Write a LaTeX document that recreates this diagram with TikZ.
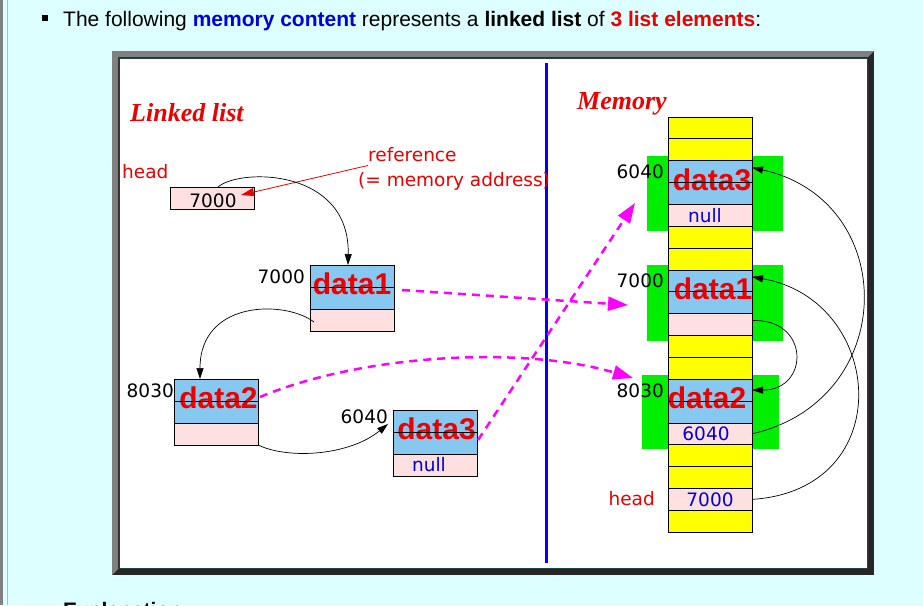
\documentclass[tikz,border=0pt]{standalone}
\usepackage{fontspec}
\setmainfont{Liberation Sans}
\newfontfamily\dvsans{DejaVu Sans}
\newfontfamily\lserif{Liberation Serif}
\usetikzlibrary{arrows.meta}
\definecolor{pagebg}{RGB}{221,255,255}
\definecolor{pagegray}{RGB}{128,128,128}
\definecolor{framegray}{RGB}{128,128,128}
\definecolor{framedark}{RGB}{38,38,38}
\definecolor{innerline}{RGB}{30,70,70}
\definecolor{cellblue}{RGB}{135,200,240}
\definecolor{cellpink}{RGB}{255,224,224}
\definecolor{cellyellow}{RGB}{255,255,0}
\definecolor{memgreen}{RGB}{0,238,0}
\definecolor{txtred}{RGB}{235,0,0}
\definecolor{txtblue}{RGB}{0,0,220}
\definecolor{magline}{RGB}{255,0,255}
\definecolor{divblue}{RGB}{0,0,255}
\newcommand\topfnt{\fontsize{21}{25}\selectfont}
\newcommand\lblfnt{\dvsans\fontsize{18.5}{22}\selectfont}
\newcommand\datfnt{\bfseries\fontsize{30}{34}\selectfont}
\newcommand\ttlfnt{\lserif\bfseries\itshape\fontsize{26}{30}\selectfont}
\begin{document}
\begin{tikzpicture}[x=1pt,y=-1pt,
  cell/.style={draw=black, line width=0.8pt, minimum width=84pt, minimum height=22pt, inner sep=0pt, outer sep=0pt},
  mcell/.style={minimum height=21.85pt},
  lbl/.style={font=\lblfnt, inner sep=0pt},
  dat/.style={font=\datfnt, text=txtred, inner sep=0pt, yshift=3pt},
  ttl/.style={font=\ttlfnt, text=txtred, inner sep=0pt, anchor=base west},
  ptr/.style={draw=black, line width=0.7pt, -{Triangle[length=11pt,width=7pt]}},
  refptr/.style={draw=txtred, line width=0.8pt, -{Triangle[length=13pt,width=8pt]}},
  magarrow/.style={draw=magline, line width=2.5pt, dash pattern=on 8pt off 6pt, -{Triangle[length=20pt,width=14pt]}},
  midline/.style={draw=black, line width=0.8pt}]
\useasboundingbox (0,0) rectangle (923,605);
% page
\fill[pagebg] (0,0) rectangle (923,605);
\fill[pagegray] (0,0) rectangle (3,605);
\draw[pagegray!55, line width=0.8pt] (7.5,0) -- (7.5,605);
\node[fill=black, minimum size=6pt, inner sep=0pt] (bullet) at (45,18) {};
\node[anchor=base west, inner sep=0pt, font=\topfnt] (title) at (63,26)
  {The following \textcolor{txtblue}{\bfseries memory content} represents a \textbf{linked list} of \textcolor{txtred}{\bfseries 3 list elements}:};
\begin{scope}
  \clip (0,0) rectangle (923,605);
  \node[anchor=base west, inner sep=0pt, font=\topfnt\bfseries] (expl) at (63,617) {Explanation};
\end{scope}
% frame
\fill[framedark] (112,51) rectangle (874,575);
\fill[framegray] (112,51) -- (874,51) -- (868,57) -- (118,57) -- (118,569) -- (112,575) -- cycle;
\draw[fill=white, draw=innerline, line width=0.8pt] (119,58) rectangle (867,568);
% divider
\draw[divblue, line width=3pt] (546,63) -- (546,563);
% titles
\node[ttl] (lltitle) at (130,121) {Linked list};
\node[ttl] (memtitle) at (577,109) {Memory};
% ---------- linked list side ----------
\node[lbl, text=txtred, anchor=base west] (headlbl) at (122,178) {head};
\node[cell, fill=cellpink] (headbox) at (212,198) {};
\node[lbl, anchor=base] (headval) at (213,207) {7000};
\node[lbl, text=txtred, anchor=base west] (refl) at (368,161) {reference};
\node[lbl, text=txtred, anchor=base west] (refl2) at (358,186) {(= memory address)};
\coordinate (reftip) at (241,195);

\node[cell, fill=cellblue] (n1a) at (352,276) {};
\node[cell, fill=cellblue] (n1b) at (352,298) {};
\node[cell, fill=cellpink] (n1c) at (352,320) {};
\node[dat] (d1) at (n1a.south) {data1};
\draw[midline] (n1a.south west) -- (n1a.south east);
\node[lbl, anchor=base east] (a1) at (305,283) {7000};

\node[cell, fill=cellblue] (n2a) at (216,390) {};
\node[cell, fill=cellblue] (n2b) at (216,412) {};
\node[cell, fill=cellpink] (n2c) at (216,434) {};
\node[dat, xshift=2.5pt] (d2) at (n2a.south) {data2};
\draw[midline] (n2a.south west) -- (n2a.south east);
\node[lbl, anchor=base east] (a2) at (174,397) {8030};

\node[cell, fill=cellblue] (n3a) at (435,421) {};
\node[cell, fill=cellblue] (n3b) at (435,443) {};
\node[cell, fill=cellpink] (n3c) at (435,465) {};
\node[dat, xshift=1.5pt] (d3) at (n3a.south) {data3};
\draw[midline] (n3a.south west) -- (n3a.south east);
\node[lbl, text=txtblue, xshift=-6pt] (n3null) at (n3c) {null};
\node[lbl, anchor=base east] (a3) at (388,423) {6040};

% ---------- memory side ----------
\fill[memgreen] (647,156) rectangle (783,231);
\fill[memgreen] (647,265) rectangle (783,341);
\fill[memgreen] (642,375) rectangle (779,449);
\foreach \i/\c in {0/cellyellow,1/cellyellow,2/cellblue,3/cellblue,4/cellpink,5/cellyellow,6/cellyellow,7/cellblue,8/cellblue,9/cellpink,10/cellyellow,11/cellyellow,12/cellblue,13/cellblue,14/cellpink,15/cellyellow,16/cellyellow,17/cellpink,18/cellyellow}
  \node[cell, mcell, fill=\c] (m\i) at (710,{117+21.85*\i+10.925}) {};
\node[dat, xshift=2pt] (md3) at (m2.south) {data3};
\draw[midline] (m2.south west) -- (m2.south east);
\node[lbl, text=txtblue, xshift=-5pt] (mnull) at (m4) {null};
\node[dat, xshift=3pt] (md1) at (m7.south) {data1};
\draw[midline] (m7.south west) -- (m7.south east);
\node[dat, xshift=-3pt] (md2) at (m12.south) {data2};
\draw[midline] (m12.south west) -- (m12.south east);
\node[lbl, text=txtblue, xshift=-4pt] (m6040) at (m14) {6040};
\node[lbl, text=txtblue] (m7000) at (m17) {7000};
\node[lbl, anchor=base east] (ma3) at (664,178) {6040};
\node[lbl, anchor=base east] (ma1) at (664,287) {7000};
\node[lbl, anchor=base east] (ma2) at (664,397) {8030};
\node[lbl, text=txtred, anchor=base east] (mhead) at (655,505) {head};

% ---------- connectors ----------
\draw[refptr] ([yshift=-4pt]refl.south west) -- (reftip);
\draw[ptr] ([xshift=6pt]headbox.north) .. controls (240,168) and (350,168) .. ([xshift=-4pt]n1a.north);
\draw[ptr] ([xshift=4pt,yshift=-2pt]n1c.west) .. controls (285,300) and (200,300) .. ([xshift=-16pt]n2a.north);
\draw[ptr] (n2c.south east) .. controls (290,460) and (350,455) .. ([xshift=-5pt,yshift=-3pt]n3a.west);

\coordinate (maend) at (628,305);
\coordinate (mbend) at (633,378);
\coordinate (mcend) at (635,203);
\draw[magarrow] ([xshift=8pt,yshift=-3pt]n1b.north east) -- (maend);
\draw[magarrow] ([xshift=2pt,yshift=4pt]n2a.south east) .. controls (360,355) and (520,345) .. (mbend);
\draw[magarrow] ([xshift=1pt,yshift=3pt]n3b.east) -- (mcend);

\draw[ptr] (m14.east) .. controls (900,400) and (900,200) .. ([yshift=4pt]m2.east);
\draw[ptr] (m17.east) .. controls (900,490) and (885,300) .. ([yshift=4pt]m7.east);
\draw[ptr] ([yshift=4pt]m9.east) .. controls (810,318) and (810,390) .. (m12.east);
\end{tikzpicture}
\end{document}
